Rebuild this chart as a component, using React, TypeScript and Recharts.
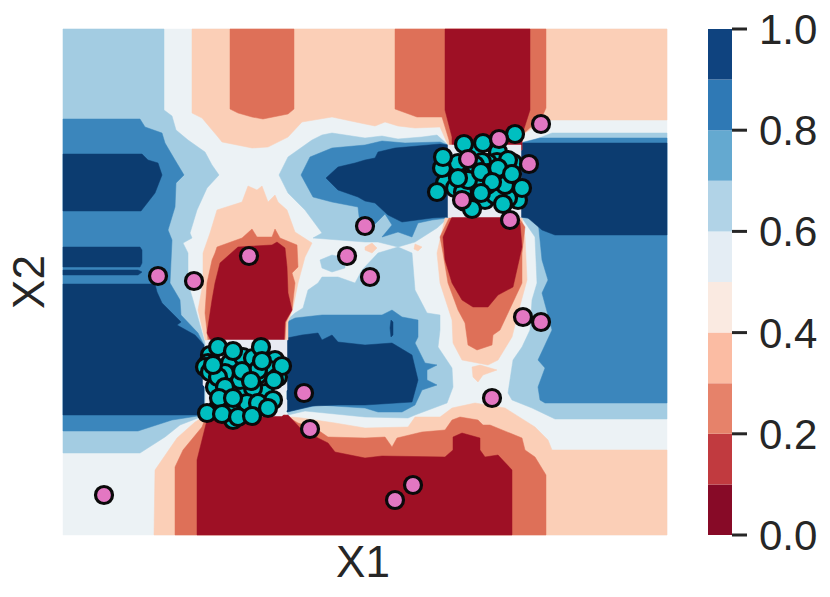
import React from "react";
import { ScatterChart, Scatter, XAxis, YAxis, BarChart, Bar } from "recharts";

type P = [number, number];

const base: P[] = [[63,29],[667,29],[667,535],[63,535]];
const leftLight: P[] = [[63,29],[164,29],[164,110],[172,116],[176,130],[188,140],[205,152],[212,165],[219,175],[207,188],[197,210],[190,233],[192,238],[183,243],[188,253],[188,283],[193,300],[205,343],[205,415],[198,418],[180,425],[165,437],[140,453],[63,453]];
const leftMid: P[] = [[63,119],[140,119],[145,127],[162,133],[165,143],[175,160],[184,175],[176,183],[175,207],[168,230],[172,240],[170,283],[180,300],[181,315],[198,333],[204,345],[204,415],[172,420],[138,431],[63,431]];
const leftDarkA: P[] = [[63,154],[142,154],[148,160],[158,163],[162,175],[155,193],[141,211],[63,211]];
const leftDarkB: P[] = [[63,247],[140,247],[142,250],[142,263],[140,267],[63,267]];
const leftDarkC: P[] = [[63,270],[138,270],[142,272],[138,275],[63,275]];
const leftDarkD: P[] = [[63,284],[155,284],[157,292],[162,303],[181,322],[177,325],[195,335],[204,345],[204,415],[63,415]];
const rightLight: P[] = [[521,145],[552,133],[667,133],[667,419],[555,419],[532,408],[512,400],[508,393],[513,360],[522,347],[530,330],[532,300],[537,283],[535,237],[522,218]];
const rightMid: P[] = [[520,143],[540,138],[667,138],[667,403],[545,403],[540,400],[538,387],[545,368],[538,360],[552,330],[542,293],[548,280],[542,260],[538,220],[521,217]];
const rightDark: P[] = [[520,143],[667,143],[667,235],[555,235],[542,230],[528,218],[520,217]];
const upperLight: P[] = [[279,175],[288,157],[312,140],[322,135],[332,133],[365,138],[382,136],[398,139],[422,137],[437,135],[448,145],[448,218],[437,228],[415,242],[398,247],[378,242],[365,242],[313,238],[322,233],[305,210],[288,193]];
const upperMid: P[] = [[301,175],[310,157],[332,148],[365,145],[382,141],[405,143],[440,142],[448,145],[448,218],[432,220],[418,223],[412,237],[398,232],[382,237],[392,225],[385,214],[373,226],[360,225],[358,207],[332,202],[313,197]];
const upperDark: P[] = [[326,178],[338,167],[355,163],[365,160],[375,158],[378,152],[395,148],[440,144],[448,145],[448,217],[432,218],[402,222],[388,215],[375,203],[365,201],[358,197],[338,190]];
const midLight: P[] = [[287,320],[295,313],[303,308],[308,290],[318,283],[322,277],[338,277],[355,283],[362,270],[378,253],[398,247],[412,253],[415,290],[427,313],[440,315],[440,330],[438,347],[452,368],[453,387],[447,403],[415,415],[408,418],[365,417],[305,411],[288,415]];
const midBlue: P[] = [[287,322],[295,318],[322,315],[365,315],[382,315],[392,310],[402,317],[418,320],[418,337],[415,343],[425,363],[437,365],[427,370],[427,380],[437,385],[422,390],[415,405],[402,412],[378,412],[365,408],[318,405],[287,412]];
const midDark: P[] = [[287,338],[302,335],[318,333],[322,340],[332,335],[338,342],[365,345],[392,343],[412,355],[418,380],[412,402],[365,405],[338,405],[312,406],[287,412]];
const midLens: P[] = [[391,320],[393,322],[393,335],[391,337],[390,328]];
const patchLight: P[] = [[320,260],[332,255],[345,258],[345,268],[332,272],[322,268]];
const topPeach: P[] = [[192,29],[667,29],[667,120],[545,120],[525,133],[521,145],[448,145],[440,127],[415,128],[398,126],[385,122],[375,126],[365,124],[332,117],[302,122],[288,137],[268,147],[252,148],[222,142],[218,137],[202,118],[192,113]];
const topSalmonA: P[] = [[230,29],[294,29],[294,109],[288,114],[263,119],[252,117],[238,113],[230,109]];
const topSalmonB: P[] = [[395,29],[546,29],[546,108],[542,117],[522,135],[522,150],[450,150],[449,140],[442,117],[417,117],[395,109]];
const topRed: P[] = [[445,29],[530,29],[530,110],[522,135],[522,150],[452,150],[452,137],[445,110]];
const cPeach: P[] = [[203,283],[203,253],[210,233],[217,210],[242,202],[248,186],[257,190],[262,186],[268,202],[275,195],[278,202],[287,210],[295,232],[312,243],[305,257],[298,283],[293,308],[288,322],[288,340],[205,340],[198,310]];
const cSalmon: P[] = [[207,283],[212,260],[215,253],[217,247],[242,238],[252,229],[257,237],[272,237],[275,229],[280,238],[297,245],[298,267],[292,273],[295,283],[292,310],[286,322],[285,340],[208,340],[205,313]];
const cRed: P[] = [[215,283],[220,263],[238,247],[272,245],[277,242],[285,248],[287,267],[288,293],[292,310],[285,322],[284,342],[212,343],[207,333],[212,300]];
const invPeach: P[] = [[445,218],[437,253],[440,283],[452,320],[453,343],[462,360],[488,365],[498,360],[512,337],[518,313],[527,280],[525,237],[522,218]];
const invSalmon: P[] = [[449,218],[440,237],[443,253],[448,283],[458,310],[465,323],[468,345],[477,350],[492,345],[493,335],[500,330],[522,283],[522,253],[525,227],[519,218]];
const invRed: P[] = [[452,217],[443,237],[445,260],[452,283],[462,300],[473,307],[488,307],[498,295],[513,287],[522,247],[520,223],[512,217]];
const speckA: P[] = [[472,367],[480,365],[497,370],[483,375],[478,382],[473,377]];
const speckB: P[] = [[365,247],[372,243],[377,248],[372,253],[365,250]];
const speckC: P[] = [[415,244],[422,247],[418,251],[414,249]];
const botPeach: P[] = [[154,535],[667,535],[667,450],[552,450],[548,440],[535,427],[505,408],[475,403],[452,408],[440,417],[415,417],[408,427],[365,428],[335,423],[302,418],[292,417],[205,416],[195,422],[177,438],[155,470]];
const botSalmon: P[] = [[175,535],[175,467],[183,450],[202,427],[205,419],[285,415],[298,423],[315,428],[328,437],[365,438],[385,437],[392,447],[397,438],[422,432],[445,430],[452,420],[460,417],[478,420],[483,425],[490,425],[522,438],[525,450],[535,457],[546,475],[546,535]];
const botRed: P[] = [[197,535],[197,460],[207,420],[288,415],[302,430],[328,443],[335,452],[365,458],[382,456],[445,457],[453,450],[453,437],[462,433],[480,438],[480,450],[485,457],[498,455],[512,470],[512,535]];
const boxUpper: P[] = [[448,145],[521,145],[521,217],[448,217]];
const boxLower: P[] = [[208,340],[287,340],[287,390],[281,395],[287,400],[287,410],[282,416],[208,416],[208,390],[203,385],[203,360]];

const DARK = "#0c3c70", MID = "#3b86bc", LIGHT = "#a3cce2", PALE = "#ecf2f5";
const PEACH = "#fbcfb7", SALMON = "#de7058", RED = "#9e1025", BOX = "#e9ebf3";

const regions: [P[], string][] = [
  [base, PALE],
  [leftLight, LIGHT], [leftMid, MID], [leftDarkA, DARK], [leftDarkB, DARK], [leftDarkC, DARK], [leftDarkD, DARK],
  [rightLight, LIGHT], [rightMid, MID], [rightDark, DARK],
  [upperLight, LIGHT], [upperMid, MID], [upperDark, DARK],
  [midLight, LIGHT], [midBlue, MID], [midDark, DARK], [midLens, DARK], [patchLight, LIGHT],
  [topPeach, PEACH], [topSalmonA, SALMON], [topSalmonB, SALMON], [topRed, RED],
  [cPeach, PEACH], [cSalmon, SALMON], [cRed, RED],
  [invPeach, PEACH], [invSalmon, SALMON], [invRed, RED],
  [speckA, PEACH], [speckB, PEACH], [speckC, PEACH],
  [botPeach, PEACH], [botSalmon, SALMON], [botRed, RED],
  [boxUpper, BOX], [boxLower, BOX],
];

// Samples
const tealLower: P[] = [[210,355],[208,363],[205,367],[210,372],[230,363],[243,357],[253,358],[275,360],[270,370],[235,375],[258,375],[245,392],[265,393],[215,387],[253,388],[240,380],[225,373],[273,400],[233,420],[247,407],[230,410],[218,408],[258,370],[247,403],[278,377],[218,377],[218,347],[233,351],[261,347],[213,365],[262,361],[282,366],[242,371],[251,381],[225,387],[274,380],[219,398],[233,398],[258,403],[268,408],[207,413],[222,414],[238,417],[252,416]];
const tealUpper: P[] = [[475,152],[498,152],[497,162],[488,163],[452,172],[445,183],[455,188],[513,163],[505,173],[508,160],[482,162],[478,182],[468,188],[463,192],[502,190],[518,200],[508,198],[485,200],[495,195],[448,165],[442,168],[472,175],[488,173],[498,168],[475,165],[458,163],[487,185],[480,183],[468,180],[505,185],[465,202],[515,134],[464,144],[483,143],[443,157],[437,192],[458,178],[481,172],[512,174],[522,188],[492,182],[481,193],[503,204],[472,209]];
const pink: P[] = [[541,124],[499,139],[468,159],[529,164],[462,200],[510,220],[365,226],[347,256],[370,277],[249,256],[158,276],[194,281],[523,317],[541,322],[304,393],[492,398],[310,429],[413,485],[395,500],[104,495]];

// Colour bar
const barLevels = ["b0","b1","b2","b3","b4","b5","b6","b7","b8","b9"];
const barColors = ["#870a27","#c13a3f","#e6826a","#fbbca3","#faeae1","#e4edf4","#b1d3e7","#64a9d0","#2f79b5","#0f437f"];
const barRow = [{ name: "p", b0:0.1,b1:0.1,b2:0.1,b3:0.1,b4:0.1,b5:0.1,b6:0.1,b7:0.1,b8:0.1,b9:0.1 }];
const barTicks = [0, 0.2, 0.4, 0.6, 0.8, 1];

const xDomain: P = [63, 667];
const yDomain: P = [29, 535];
const FONT = "'Liberation Sans', Arial, sans-serif";
const INK = "#262626";

const toRows = (pts: P[]) => pts.map(([x, y]) => ({ x, y }));
const noDot = () => null;

const dot = (fill: string) => (p: any) => (
  <circle cx={p.cx} cy={p.cy} r={8.5} fill={fill} stroke="#0a0a0a" strokeWidth={3.2} />
);

export default function App() {
  return (
    <div style={{ position: "absolute", left: 0, top: 0, width: 830, height: 597, background: "#fff", fontFamily: FONT }}>
      <div style={{ position: "absolute", left: 0, top: 0 }}>
        <ScatterChart width={830} height={597} margin={{ top: 29, left: 0, right: 163, bottom: 0 }}>
          <XAxis type="number" dataKey="x" domain={xDomain} height={62} tick={false} axisLine={false} tickLine={false}
            label={{ value: "X1", position: "insideBottom", offset: 20, dx: -2, fontSize: 44, fill: INK, fontFamily: FONT }} />
          <YAxis type="number" dataKey="y" domain={yDomain} reversed width={63} tick={false} axisLine={false} tickLine={false}
            label={{ value: "X2", angle: -90, position: "insideLeft", offset: 28, fontSize: 44, fill: INK, fontFamily: FONT, style: { textAnchor: "middle" } }} />
          {regions.map(([pts, color], i) => (
            <Scatter key={i} data={toRows(pts)} shape={noDot} isAnimationActive={false}
              line={(p: any) => (
                <polygon points={p.points.map((q: any) => `${q.x},${q.y}`).join(" ")} fill={color} stroke={color} strokeWidth={0.5} />
              )} />
          ))}
          <Scatter data={toRows(tealLower)} shape={dot("#00bfc0")} isAnimationActive={false} />
          <Scatter data={toRows(tealUpper)} shape={dot("#00bfc0")} isAnimationActive={false} />
          <Scatter data={toRows(pink)} shape={dot("#e377c2")} isAnimationActive={false} />
        </ScatterChart>
      </div>
      <div style={{ position: "absolute", left: 700, top: 0 }}>
        <BarChart width={130} height={597} data={barRow} barCategoryGap={0} margin={{ top: 29, left: 8, right: 0, bottom: 62 }}>
          <XAxis dataKey="name" hide />
          <YAxis orientation="right" width={98} domain={[0, 1]} ticks={barTicks} interval={0} axisLine={false}
            tickSize={15} tickMargin={12} tickLine={{ stroke: INK, strokeWidth: 3 }}
            tickFormatter={(v: number) => v.toFixed(1)}
            tick={{ fill: INK, fontSize: 42, fontFamily: FONT }} />
          {barLevels.map((k, i) => (
            <Bar key={k} dataKey={k} stackId="s" fill={barColors[i]} isAnimationActive={false} />
          ))}
        </BarChart>
      </div>
    </div>
  );
}
